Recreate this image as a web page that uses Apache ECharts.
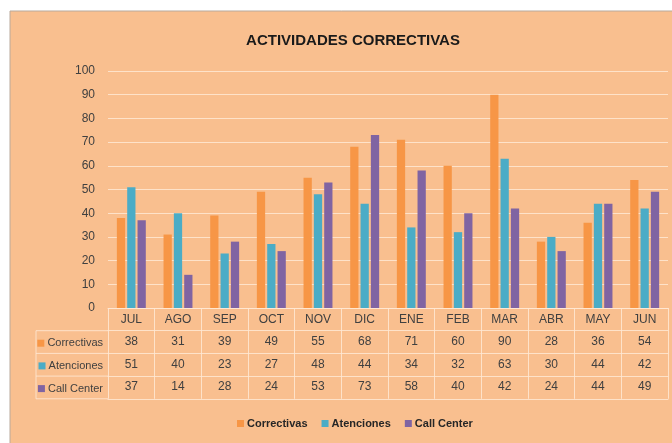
<!DOCTYPE html>
<html>
<head>
<meta charset="utf-8">
<script src="https://cdn.jsdelivr.net/npm/echarts@6/dist/echarts.min.js"></script>
<style>
  html, body { margin: 0; padding: 0; background: #fff; }
  #main { width: 672px; height: 443px; }
</style>
</head>
<body>
<div id="main"></div>
<script>
// datos
const months = ['JUL', 'AGO', 'SEP', 'OCT', 'NOV', 'DIC', 'ENE', 'FEB', 'MAR', 'ABR', 'MAY', 'JUN']
const correctivas = [38, 31, 39, 49, 55, 68, 71, 60, 90, 28, 36, 54]
const atenciones = [51, 40, 23, 27, 48, 44, 34, 32, 63, 30, 44, 42]
const callCenter = [37, 14, 28, 24, 53, 73, 58, 40, 42, 24, 44, 49]
const yTicks = { min: 0, max: 100, interval: 10 }

const FONT = "'Liberation Sans Narrow', 'Liberation Sans', Arial, sans-serif"
const colors = ['#F79646', '#4BACC6', '#8064A2']
const names = ['Correctivas', 'Atenciones', 'Call Center']
const rows = [correctivas, atenciones, callCenter]
const lineColor = 'rgba(255, 232, 212, 0.85)'

// tabla de datos bajo el eje
const gridLeft = 108
const axisY = 308
const rowH = 22.7
const tableLeft = 36

const tableAxes = rows.map((data, i) => ({
  type: 'category',
  data: months,
  position: 'bottom',
  offset: rowH * (i + 1),
  axisLine: { show: true, lineStyle: { color: lineColor, width: 1 } },
  axisTick: { show: false },
  axisLabel: {
    margin: 5,
    fontFamily: FONT,
    fontSize: 12,
    color: '#404040',
    formatter: (v, idx) => String(data[idx])
  },
  name: '{sq|}{t| ' + names[i] + '}',
  nameLocation: 'start',
  nameGap: 5,
  nameTextStyle: {
    verticalAlign: 'top',
    padding: [7, 0, 0, 0],
    rich: {
      sq: { width: 7, height: 7, backgroundColor: colors[i] },
      t: { fontFamily: FONT, fontSize: 11, color: '#404040' }
    }
  }
}))

const chart = echarts.init(document.getElementById('main'))
chart.setOption({
  animation: false,
  textStyle: { fontFamily: FONT },
  title: {
    text: 'ACTIVIDADES CORRECTIVAS',
    left: 348,
    textAlign: 'center',
    top: 28,
    textStyle: { fontFamily: FONT, fontSize: 15, fontWeight: 'bold', color: '#1a1a1a' }
  },
  legend: {
    bottom: 9,
    left: 232,
    itemWidth: 7,
    itemHeight: 7,
    itemGap: 14,
    icon: 'rect',
    textStyle: { fontFamily: FONT, fontSize: 11, fontWeight: 'bold', color: '#262626', padding: [0, 0, 0, -2] },
    data: names
  },
  grid: { left: gridLeft, right: 4, top: 71, bottom: 443 - axisY, containLabel: false },
  yAxis: {
    type: 'value',
    min: yTicks.min,
    max: yTicks.max,
    interval: yTicks.interval,
    axisLine: { show: false },
    axisTick: { show: false },
    axisLabel: { margin: 13, fontFamily: FONT, fontSize: 12, color: '#404040' },
    splitLine: { lineStyle: { color: lineColor, width: 1 } }
  },
  xAxis: [
    {
      type: 'category',
      data: months,
      position: 'bottom',
      axisLine: { show: true, lineStyle: { color: lineColor } },
      axisTick: { show: true, length: rowH * 4, interval: 0, lineStyle: { color: lineColor } },
      axisLabel: { margin: 6, fontFamily: FONT, fontSize: 12, color: '#404040', interval: 0 }
    },
    ...tableAxes,
    {
      type: 'category',
      data: months,
      position: 'bottom',
      offset: rowH * 4,
      axisLine: { show: true, lineStyle: { color: lineColor } },
      axisTick: { show: false },
      axisLabel: { show: false }
    }
  ],
  series: rows.map((data, i) => ({
    name: names[i],
    type: 'bar',
    xAxisIndex: 0,
    data: data,
    barGap: '25%',
    barCategoryGap: '38%',
    itemStyle: { color: colors[i] }
  })),
  graphic: [
    {
      type: 'rect',
      z: -10,
      silent: true,
      shape: { x: 10, y: 11, width: 680, height: 450 },
      style: { fill: '#F9BF8F', stroke: '#b9a99b', lineWidth: 1 }
    },
    {
      type: 'line',
      silent: true,
      shape: { x1: tableLeft, y1: axisY + rowH, x2: tableLeft, y2: axisY + rowH * 4 },
      style: { stroke: lineColor, lineWidth: 1 }
    },
    ...[1, 2, 3, 4].map(k => ({
      type: 'line',
      silent: true,
      shape: { x1: tableLeft, y1: axisY + rowH * k, x2: gridLeft, y2: axisY + rowH * k },
      style: { stroke: lineColor, lineWidth: 1 }
    }))
  ]
})
</script>
</body>
</html>
